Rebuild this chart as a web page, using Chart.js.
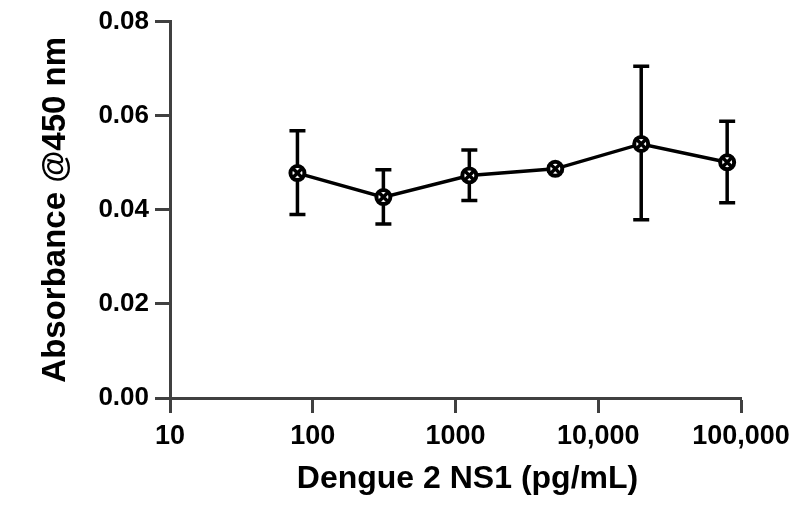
<!DOCTYPE html>
<html><head><meta charset="utf-8">
<script src="https://cdn.jsdelivr.net/npm/chart.js@4.4.1/dist/chart.umd.min.js"></script>
<style>html,body{margin:0;padding:0;background:#fff;overflow:hidden;}</style>
</head><body>
<canvas id="c" width="790" height="507" style="display:block;width:790px;height:507px"></canvas>
<script>
const concentrations = [78.125, 312.5, 1250, 5000, 20000, 80000];
const absorbance = [0.0478, 0.0427, 0.0473, 0.0487, 0.0540, 0.0501];
const errorUpper = [0.0568, 0.0485, 0.0527, 0.0492, 0.0705, 0.0588];
const errorLower = [0.0390, 0.0370, 0.0420, 0.0482, 0.0379, 0.0415];
const xTickValues = [10, 100, 1000, 10000, 100000];
const xTickLabels = ['10', '100', '1000', '10,000', '100,000'];
const yTickValues = [0, 0.02, 0.04, 0.06, 0.08];
const yTickLabels = ['0.00', '0.02', '0.04', '0.06', '0.08'];
const xTitle = 'Dengue 2 NS1 (pg/mL)';
const yTitle = 'Absorbance @450 nm';

const FONT = '"Liberation Sans", Arial, Helvetica, sans-serif';
const AXIS = '#404040';

const points = concentrations.map((c, i) => ({x: c, y: absorbance[i]}));

const whiteBg = {
  id: 'whiteBg',
  beforeDraw(chart) {
    const ctx = chart.ctx;
    ctx.save();
    ctx.fillStyle = '#fff';
    ctx.fillRect(0, 0, chart.width, chart.height);
    ctx.restore();
  }
};

const errorBars = {
  id: 'errorBars',
  beforeDatasetsDraw(chart) {
    const {ctx, scales: {x, y}} = chart;
    ctx.save();
    ctx.strokeStyle = '#000';
    ctx.lineWidth = 3.5;
    ctx.lineCap = 'butt';
    concentrations.forEach((c, i) => {
      const px = x.getPixelForValue(c);
      const top = y.getPixelForValue(errorUpper[i]);
      const bot = y.getPixelForValue(errorLower[i]);
      ctx.beginPath();
      ctx.moveTo(px, top); ctx.lineTo(px, bot);
      ctx.moveTo(px - 8, top); ctx.lineTo(px + 8, top);
      ctx.moveTo(px - 8, bot); ctx.lineTo(px + 8, bot);
      ctx.stroke();
    });
    ctx.restore();
  }
};

const xTitlePlugin = {
  id: 'xTitle',
  afterDraw(chart) {
    const {ctx, chartArea} = chart;
    ctx.save();
    ctx.fillStyle = '#000';
    ctx.font = 'bold 32px ' + FONT;
    ctx.textAlign = 'center';
    ctx.textBaseline = 'alphabetic';
    ctx.fillText(xTitle, (chartArea.left + chartArea.right) / 2 + 12, 488);
    ctx.restore();
  }
};

new Chart(document.getElementById('c'), {
  type: 'line',
  data: {
    datasets: [
      {
        data: points,
        order: 2,
        borderColor: '#000',
        borderWidth: 3.5,
        tension: 0,
        pointStyle: 'circle',
        pointRadius: 7,
        pointBorderWidth: 4,
        pointBackgroundColor: '#fff',
        pointBorderColor: '#000'
      },
      {
        data: points,
        order: 1,
        showLine: false,
        pointStyle: 'crossRot',
        pointRadius: 6,
        pointBorderWidth: 3.5,
        pointBorderColor: '#000',
        pointBackgroundColor: '#000'
      }
    ]
  },
  options: {
    responsive: false,
    animation: false,
    devicePixelRatio: 1,
    events: [],
    layout: {padding: {top: 20, right: 0, bottom: 0, left: 0}},
    plugins: {legend: {display: false}, tooltip: {enabled: false}},
    scales: {
      x: {
        type: 'logarithmic',
        min: 10,
        max: 100000,
        afterBuildTicks: s => { s.ticks = xTickValues.map(v => ({value: v})); },
        afterFit: s => { s.height = 109; s.paddingRight = 49; s.paddingLeft = 0; },
        ticks: {
          callback: (v) => xTickLabels[xTickValues.indexOf(v)],
          font: {family: FONT, size: 27, weight: 'bold'},
          color: '#000',
          padding: 7,
          maxRotation: 0,
          autoSkip: false
        },
        grid: {drawOnChartArea: false, drawTicks: true, tickLength: 15, tickWidth: 3, tickColor: AXIS},
        border: {display: true, width: 3, color: AXIS}
      },
      y: {
        type: 'linear',
        min: 0,
        max: 0.08,
        afterBuildTicks: s => { s.ticks = yTickValues.map(v => ({value: v})); },
        afterFit: s => { s.width = 170; },
        ticks: {
          callback: (v) => yTickLabels[yTickValues.findIndex(t => Math.abs(t - v) < 1e-9)],
          font: {family: FONT, size: 26, weight: 'bold'},
          color: '#000',
          padding: 6
        },
        grid: {drawOnChartArea: false, drawTicks: true, tickLength: 15, tickWidth: 3, tickColor: AXIS},
        border: {display: true, width: 3, color: AXIS},
        title: {
          display: true,
          text: yTitle,
          color: '#000',
          font: {family: FONT, size: 33, weight: 'bold'},
          padding: {top: 36, bottom: 0}
        }
      }
    }
  },
  plugins: [whiteBg, errorBars, xTitlePlugin]
});
</script>
</body></html>
